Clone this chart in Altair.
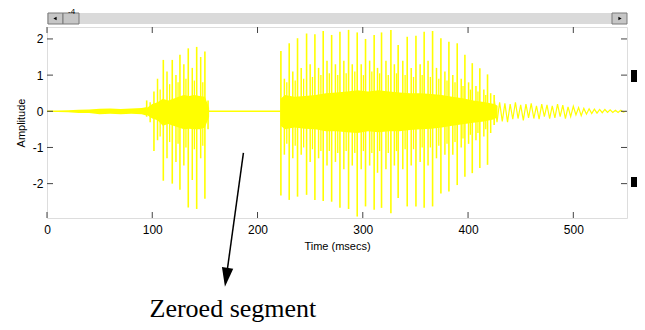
import altair as alt
import pandas as pd

# ---------------- data ----------------
x_ticks = [0, 100, 200, 300, 400, 500]
y_ticks = [-2, -1, 0, 1, 2]

# main glottal pulses: time (ms), positive peak, negative peak
pulse_t = [94.7, 101.6, 110.5, 119.0, 126.3, 134.2, 142.2, 150.0, 153.0,
           222.2, 230.1, 238.0, 246.6, 254.5, 262.4, 270.4, 278.3, 286.5,
           294.7, 302.6, 310.8, 317.8, 326.7, 333.6, 342.2, 350.5, 358.3,
           366.3, 374.2, 381.8, 389.7, 397.0, 404.0, 411.2, 418.5, 424.8]
pulse_top = [0.30, 0.55, 1.42, 1.42, 1.56, 1.74, 1.78, 1.65, 0.30,
             1.67, 1.88, 2.02, 2.15, 2.13, 2.22, 2.11, 2.20, 2.25,
             2.18, 2.00, 2.11, 2.18, 2.25, 1.83, 2.06, 2.09, 2.20,
             2.22, 2.02, 1.92, 1.88, 1.56, 1.33, 1.19, 1.02, 0.45]
pulse_bot = [-0.15, -1.10, -1.92, -2.00, -2.17, -2.66, -2.70, -2.42, -0.50,
             -2.33, -2.45, -2.36, -2.31, -2.45, -2.48, -2.50, -2.67, -2.70,
             -2.91, -2.63, -2.72, -2.67, -2.82, -2.40, -2.63, -2.63, -2.67,
             -2.63, -2.27, -2.22, -2.04, -1.81, -1.71, -1.57, -1.48, -0.38]

# secondary (smaller) peaks inside each period
sec_t = [98.0, 105.0, 114.0, 122.5, 130.0, 138.0, 146.0,
         225.5, 233.5, 241.5, 250.0, 258.0, 266.0, 274.0, 282.0, 290.0,
         298.5, 306.5, 314.0, 322.0, 330.0, 338.0, 346.0, 354.5, 362.0,
         370.0, 378.0, 385.5, 393.5, 400.5, 407.5, 415.0, 421.5]
sec_top = [0.25, 0.90, 1.10, 1.00, 1.30, 1.20, 1.50,
           0.90, 1.10, 1.20, 1.30, 1.20, 1.40, 1.30, 1.40, 1.30,
           1.30, 1.40, 1.20, 1.40, 1.30, 1.40, 1.20, 1.30, 1.40,
           1.20, 1.10, 1.00, 0.90, 0.80, 0.70, 0.60, 0.50]
sec_bot = [-0.30, -0.80, -1.30, -1.40, -1.50, -1.90, -1.30,
           -1.20, -1.30, -1.20, -1.40, -1.30, -1.50, -1.40, -1.60, -1.50,
           -1.60, -1.50, -1.70, -1.60, -1.50, -1.60, -1.50, -1.40, -1.50,
           -1.30, -1.20, -1.20, -1.00, -0.90, -0.80, -0.70, -0.60]

# third-level short peaks (texture of the dense part)
ter_t = [107.5, 116.5, 124.5, 132.0, 140.0, 148.0,
         227.8, 235.8, 243.8, 252.2, 260.2, 268.2, 276.2, 284.2, 292.4,
         300.6, 308.6, 316.0, 324.2, 332.0, 340.2, 348.2, 356.4, 364.2,
         372.2, 380.0, 387.6, 395.2, 402.2, 409.4, 416.8]
ter_top = [0.60, 0.75, 0.80, 0.90, 0.85, 0.80,
           0.80, 0.85, 0.90, 0.95, 1.00, 1.05, 1.00, 1.05, 1.10,
           1.00, 1.10, 1.05, 1.00, 1.05, 1.00, 0.95, 1.00, 0.95,
           0.90, 0.85, 0.80, 0.70, 0.60, 0.55, 0.45]
ter_bot = [-0.70, -0.85, -0.90, -1.00, -1.05, -0.95,
           -0.90, -0.95, -1.00, -1.05, -1.10, -1.10, -1.15, -1.10, -1.15,
           -1.10, -1.15, -1.10, -1.15, -1.10, -1.05, -1.05, -1.00, -1.00,
           -0.95, -0.90, -0.85, -0.75, -0.65, -0.60, -0.50]

# dense body envelope (upper / lower) per segment
noise_t = [0, 10, 20, 30, 40, 50, 60, 70, 80, 90, 95]
noise_up = [0.02, 0.02, 0.03, 0.04, 0.05, 0.07, 0.08, 0.06, 0.08, 0.09, 0.12]
noise_lo = [-0.02, -0.02, -0.03, -0.05, -0.05, -0.08, -0.07, -0.08, -0.07, -0.08, -0.12]

v1_t = [95, 100, 105, 110, 115, 120, 125, 130, 135, 140, 145, 150, 154]
v1_up = [0.10, 0.20, 0.25, 0.35, 0.30, 0.35, 0.40, 0.45, 0.42, 0.45, 0.42, 0.40, 0.10]
v1_lo = [-0.10, -0.20, -0.25, -0.40, -0.35, -0.40, -0.45, -0.50, -0.48, -0.50, -0.50, -0.45, -0.15]

v2_t = [222, 226, 235, 245, 255, 265, 275, 285, 295, 305, 315, 325,
        335, 345, 355, 365, 375, 385, 395, 405, 415, 425, 428]
v2_up = [0.35, 0.45, 0.40, 0.42, 0.45, 0.50, 0.52, 0.55, 0.58, 0.55, 0.58, 0.55,
         0.52, 0.50, 0.50, 0.48, 0.45, 0.40, 0.36, 0.30, 0.26, 0.20, 0.15]
v2_lo = [-0.40, -0.50, -0.45, -0.48, -0.50, -0.55, -0.55, -0.58, -0.60, -0.55, -0.58, -0.55,
         -0.55, -0.52, -0.50, -0.48, -0.45, -0.40, -0.36, -0.32, -0.28, -0.22, -0.15]

# decaying tail oscillation
tail_t = [425, 427.5, 430, 432.5, 435, 437.5, 440, 442.5, 445, 447.5, 450, 452.5,
          455, 457.5, 460, 462.5, 465, 467.5, 470, 472.5, 475, 477.5, 480, 482.5,
          485, 487.5, 490, 492.5, 495, 497.5, 500, 502.5, 505, 507.5, 510, 512.5,
          515, 517.5, 520, 522.5, 525, 527.5, 530, 532.5, 535, 537.5, 540, 542.5,
          545, 547.5, 550]
tail_v = [0.30, -0.30, 0.25, -0.28, 0.22, -0.30, 0.20, -0.22, 0.25, -0.20, 0.18, -0.25,
          0.20, -0.18, 0.22, -0.20, 0.15, -0.22, 0.20, -0.15, 0.18, -0.20, 0.15, -0.18,
          0.20, -0.15, 0.17, -0.20, 0.12, -0.15, 0.14, -0.10, 0.10, -0.12, 0.08, -0.08,
          0.07, -0.06, 0.06, -0.05, 0.05, -0.04, 0.05, -0.03, 0.04, -0.03, 0.03, -0.03,
          0.03, -0.02, 0.00]

zero_seg = [153, 222]

arrow_t = [186.6, 170.3]
arrow_y = [-1.15, -4.59]
label_text = "Zeroed segment"
label_t = 176.6
label_y = -5.68

# ---------------- tables ----------------
pulses = pd.DataFrame({"t": pulse_t, "top": pulse_top, "bot": pulse_bot})
secs = pd.DataFrame({"t": sec_t, "top": sec_top, "bot": sec_bot})
ters = pd.DataFrame({"t": ter_t, "top": ter_top, "bot": ter_bot})
body = pd.concat([
    pd.DataFrame({"t": noise_t, "top": noise_up, "bot": noise_lo, "seg": "n"}),
    pd.DataFrame({"t": v1_t, "top": v1_up, "bot": v1_lo, "seg": "a"}),
    pd.DataFrame({"t": v2_t, "top": v2_up, "bot": v2_lo, "seg": "b"}),
])
tail = pd.DataFrame({"t": tail_t, "top": tail_v})
zero_df = pd.DataFrame({"t": [zero_seg[0]], "t2": [zero_seg[1]], "top": [0]})
arrow_df = pd.DataFrame({"t": [arrow_t[0]], "t2": [arrow_t[1]],
                         "top": [arrow_y[0]], "bot": [arrow_y[1]]})
head_df = pd.DataFrame({"t": [arrow_t[1]], "top": [arrow_y[1]]})
label_df = pd.DataFrame({"t": [label_t], "top": [label_y], "txt": [label_text]})
xt_df = pd.DataFrame({"t": x_ticks})
yt_df = pd.DataFrame({"top": y_ticks})
one = pd.DataFrame({"k": [0]})

W, H = 580, 191
YEL = "#FFFF00"
FONT = "Liberation Sans"
xs = alt.Scale(domain=[0, 551], nice=False, zero=False)
ys = alt.Scale(domain=[-2.95, 2.33], nice=False, zero=False)

x_axis = alt.Axis(values=x_ticks, ticks=False, domain=False, grid=False,
                  labelFontSize=12, labelFont=FONT, labelColor="black",
                  labelPadding=6, labelFlush=False,
                  title="Time (msecs)", titleFont=FONT, titleFontSize=11,
                  titleFontWeight="normal", titleColor="black", titlePadding=5)
y_axis = alt.Axis(values=y_ticks, ticks=False, domain=False, grid=False,
                  labelFontSize=12, labelFont=FONT, labelColor="black",
                  labelPadding=4, labelFlush=False,
                  labelExpr="'' + datum.value",
                  title="Amplitude", titleFont=FONT, titleFontSize=11,
                  titleFontWeight="normal", titleColor="black", titlePadding=6)


def X(field="t"):
    return alt.X(f"{field}:Q", scale=xs, axis=x_axis)


def Y(field="top"):
    return alt.Y(f"{field}:Q", scale=ys, axis=y_axis)


body_layer = alt.Chart(body).mark_area(color=YEL, opacity=1).encode(
    x=X(), y=Y(), y2="bot:Q", detail="seg:N")
ter_layer = alt.Chart(ters).mark_rule(color=YEL, strokeWidth=1.3).encode(
    x=X(), y=Y(), y2="bot:Q")
sec_layer = alt.Chart(secs).mark_rule(color=YEL, strokeWidth=1.5).encode(
    x=X(), y=Y(), y2="bot:Q")
pulse_layer = alt.Chart(pulses).mark_rule(color=YEL, strokeWidth=1.6).encode(
    x=X(), y=Y(), y2="bot:Q")
tail_layer = alt.Chart(tail).mark_line(color=YEL, strokeWidth=1.2).encode(
    x=X(), y=Y())
zero_layer = alt.Chart(zero_df).mark_rule(color=YEL, strokeWidth=1.5).encode(
    x=X(), x2="t2:Q", y=Y())

# inward ticks on all four sides
tick_col = "#444444"
bt = alt.Chart(xt_df).mark_rule(color=tick_col).encode(
    x=X(), y=alt.value(H), y2=alt.value(H - 6))
tt = alt.Chart(xt_df).mark_rule(color=tick_col).encode(
    x=X(), y=alt.value(0), y2=alt.value(6))
lt = alt.Chart(yt_df).mark_rule(color=tick_col).encode(
    y=Y(), x=alt.value(0), x2=alt.value(6))
rt = alt.Chart(yt_df).mark_rule(color=tick_col).encode(
    y=Y(), x=alt.value(W), x2=alt.value(W - 6))

# annotation arrow and label
arrow_line = alt.Chart(arrow_df).mark_rule(color="black", strokeWidth=1.5).encode(
    x=X(), x2="t2:Q", y=Y(), y2="bot:Q")
arrow_head = alt.Chart(head_df).mark_point(
    shape="M-0.6,-1L0.6,-1L0,1Z", filled=True, color="black", opacity=1,
    size=361, angle=8, strokeWidth=0,
).encode(x=X(), y=Y())
label = alt.Chart(label_df).mark_text(
    font="Liberation Serif", fontSize=26, color="black", baseline="alphabetic",
    align="center",
).encode(x=X(), y=Y(), text="txt:N")

# scrollbar chrome above the plot
sb_track = alt.Chart(one).mark_rect(color="#DADADA").encode(
    x=alt.value(0), x2=alt.value(W), y=alt.value(-14), y2=alt.value(-3))
sb_left = alt.Chart(one).mark_rect(color="#C6C6C6", stroke="#7A7A7A", strokeWidth=1).encode(
    x=alt.value(1), x2=alt.value(16), y=alt.value(-14), y2=alt.value(-3))
sb_thumb = alt.Chart(one).mark_rect(color="#C6C6C6", stroke="#7A7A7A", strokeWidth=1).encode(
    x=alt.value(16), x2=alt.value(32), y=alt.value(-14), y2=alt.value(-3))
sb_right = alt.Chart(one).mark_rect(color="#C6C6C6", stroke="#7A7A7A", strokeWidth=1).encode(
    x=alt.value(W - 15), x2=alt.value(W), y=alt.value(-14), y2=alt.value(-3))
sb_la = alt.Chart(one).mark_point(shape="triangle-left", filled=True, color="black",
                                  size=14, opacity=1).encode(
    x=alt.value(8), y=alt.value(-8.5))
sb_ra = alt.Chart(one).mark_point(shape="triangle-right", filled=True, color="black",
                                  size=14, opacity=1).encode(
    x=alt.value(W - 7), y=alt.value(-8.5))
sb_exp = alt.Chart(one).mark_text(text="-4", fontSize=8, font=FONT, color="black",
                                  baseline="alphabetic", align="left").encode(
    x=alt.value(21), y=alt.value(-13))

# cut-off black markers at the right edge (kept inside the drawable width)
sq1 = alt.Chart(one).mark_rect(color="black").encode(
    x=alt.value(W + 4), x2=alt.value(W + 10), y=alt.value(43), y2=alt.value(55))
sq2 = alt.Chart(one).mark_rect(color="black").encode(
    x=alt.value(W + 4), x2=alt.value(W + 10), y=alt.value(150), y2=alt.value(160))

chart = alt.layer(
    body_layer, ter_layer, sec_layer, pulse_layer, tail_layer, zero_layer,
    bt, tt, lt, rt,
    arrow_line, arrow_head, label,
    sb_track, sb_left, sb_thumb, sb_right, sb_la, sb_ra, sb_exp,
    sq1, sq2,
).properties(
    width=W, height=H,
    autosize=alt.AutoSizeParams(type="none"),
    padding={"left": 39, "top": 19, "right": 10, "bottom": 110},
).configure_view(
    stroke="black", strokeWidth=1.2,
).configure(background="white")

chart.save("out.html", embed_options={"renderer": "svg", "actions": False})
